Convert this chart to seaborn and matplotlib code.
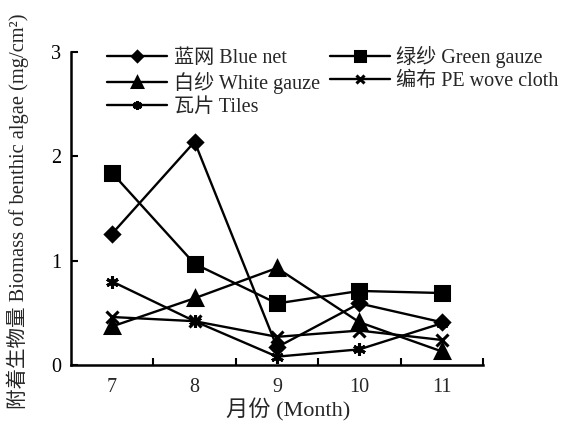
import matplotlib
matplotlib.use("Agg")
import matplotlib.pyplot as plt
import seaborn as sns
import pandas as pd

months = [7, 8, 9, 10, 11]
blue_net = [1.26, 2.14, 0.17, 0.59, 0.41]
green_gauze = [1.84, 0.97, 0.59, 0.71, 0.69]
white_gauze = [0.37, 0.64, 0.93, 0.41, 0.13]
pe_wove_cloth = [0.46, 0.42, 0.27, 0.33, 0.24]
tiles = [0.80, 0.42, 0.08, 0.15, 0.40]

series_names = ["蓝网 Blue net", "绿纱 Green gauze", "白纱 White gauze",
                "编布 PE wove cloth", "瓦片 Tiles"]
series_values = [blue_net, green_gauze, white_gauze, pe_wove_cloth, tiles]

sns.set_theme(style="ticks")
fonts = ["Liberation Serif", "Noto Sans CJK SC"]
plt.rcParams["font.family"] = fonts
plt.rcParams["axes.unicode_minus"] = False

rows = []
for name, vals in zip(series_names, series_values):
    for m, v in zip(months, vals):
        rows.append({"month": m, "biomass": v, "material": name})
df = pd.DataFrame(rows)

marker_map = {
    "蓝网 Blue net": "D",
    "绿纱 Green gauze": "s",
    "白纱 White gauze": "^",
    "编布 PE wove cloth": "x",
    "瓦片 Tiles": (6, 2, 0),
}
size_map = {
    "蓝网 Blue net": 7.5,
    "绿纱 Green gauze": 9.5,
    "白纱 White gauze": 9.5,
    "编布 PE wove cloth": 8,
    "瓦片 Tiles": 9,
}

fig = plt.figure(figsize=(5.79, 4.34), dpi=100)
ax = fig.add_axes([0.1226, 0.159, 0.7116, 0.721])

for name in series_names:
    sub = df[df["material"] == name]
    sns.lineplot(data=sub, x="month", y="biomass", ax=ax, color="black",
                 linewidth=1.7, marker=marker_map[name],
                 markersize=size_map[name], markeredgewidth=2.2,
                 markeredgecolor="black", markerfacecolor="black",
                 label=name, legend=False)

ax.set_xlim(6.5, 11.5)
ax.set_ylim(0, 3)
ax.set_yticks([0, 1, 2, 3])
ax.set_yticklabels(["0", "1", "2", "3"], fontsize=14.5)
ax.set_xticks([7.5, 8.5, 9.5, 10.5, 11.5])
ax.set_xticklabels([])
for m in months:
    ax.text(m, -0.12, str(m), ha="center", va="top", fontsize=14.5,
            transform=ax.transData)
ax.tick_params(axis="both", direction="in", length=5, width=1.5,
               colors="black")
ax.tick_params(axis="y", pad=7)
for side in ["top", "right"]:
    ax.spines[side].set_visible(False)
for side in ["left", "bottom"]:
    ax.spines[side].set_linewidth(1.8)
    ax.spines[side].set_color("black")

ax.set_xlabel("月份 (Month)", fontsize=16)
ax.xaxis.set_label_coords(0.527, -0.144)
ax.xaxis.label.set_va("center")
ax.set_ylabel("附着生物量 Biomass of benthic algae (mg/cm²)", fontsize=14.8)
ax.yaxis.set_label_coords(-0.13, 0.49)
ax.yaxis.label.set_va("center")

lines = ax.get_lines()
order = [0, 2, 4, 1, 3]
handles = [lines[i] for i in order]
labels = [series_names[i] for i in order]
fig.legend(handles, labels, loc="upper left", bbox_to_anchor=(0.1675, 0.918),
           ncol=2, frameon=False, fontsize=14.5, handlelength=3.0,
           handletextpad=0.3, columnspacing=0.5, labelspacing=0.2,
           borderpad=0, markerscale=0.72)

fig.savefig("out.png", dpi=100, facecolor="white")
